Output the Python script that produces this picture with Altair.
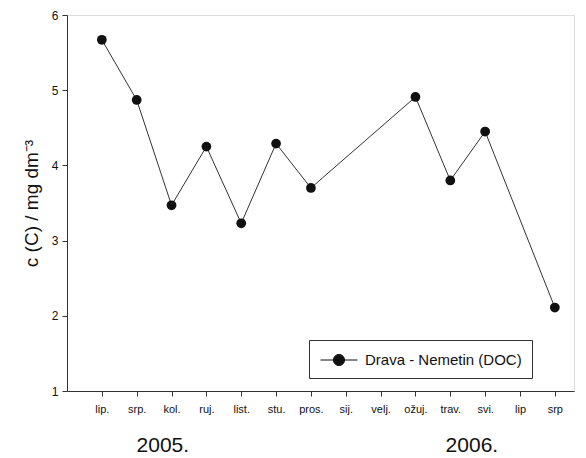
import altair as alt
import pandas as pd

months = ["lip.", "srp.", "kol.", "ruj.", "list.", "stu.", "pros.", "sij.",
          "velj.", "ožuj.", "trav.", "svi.", "lip", "srp"]
values = [5.67, 4.87, 3.47, 4.25, 3.23, 4.29, 3.70, None,
          None, 4.91, 3.80, 4.45, None, 2.11]
series_name = "Drava - Nemetin (DOC)"
years = ["2005.", "2006."]
year_pos = [1.75, 10.62]

df = pd.DataFrame({"idx": list(range(len(months))), "month": months, "val": values})
df = df.dropna()
df["series"] = series_name
ydf = pd.DataFrame({"year": years, "pos": year_pos})

font = "Liberation Sans"
label_expr = "[" + ",".join(f"'{m}'" for m in months) + "][datum.value]"

xscale = alt.Scale(domain=[-1, 13.55], nice=False, zero=False)
xaxis = alt.Axis(values=list(range(len(months))), labelExpr=label_expr,
                 title=None, grid=False, tickSize=5, labelPadding=7,
                 labelOverlap=False, labelFlush=False, labelBound=False,
                 labelFontSize=11, labelFont=font, labelColor="#111",
                 domainColor="#333", tickColor="#333")
x = alt.X("idx:Q", scale=xscale, axis=xaxis)
y = alt.Y("val:Q", scale=alt.Scale(domain=[1, 6], nice=False, zero=False),
          axis=alt.Axis(values=[1, 2, 3, 4, 5, 6], title="c (C) / mg dm⁻³",
                        grid=False, tickSize=5, labelPadding=4, labelFontSize=12,
                        labelFont=font, titleFont=font, titleFontSize=19,
                        titleFontWeight="normal", titlePadding=10,
                        labelColor="#111", titleColor="#111",
                        domainColor="#333", tickColor="#333"))

color = alt.Color("series:N", scale=alt.Scale(range=["#111"]),
                  legend=alt.Legend(title=None, orient="none", legendX=242, legendY=325,
                                    strokeColor="#333", padding=10, labelFont=font,
                                    labelFontSize=15, labelColor="#111",
                                    symbolType="M-2,0H2M0.6,0A0.6,0.6 0 1,1 -0.6,0A0.6,0.6 0 1,1 0.6,0Z",
                                    symbolSize=342, symbolStrokeWidth=1,
                                    symbolFillColor="#111", symbolStrokeColor="#111",
                                    labelOffset=16, symbolOffset=10))

line = alt.Chart(df).mark_line(color="#333", strokeWidth=1).encode(x=x, y=y)
pts = alt.Chart(df).mark_circle(size=95, opacity=1).encode(x=x, y=y, color=color)

years_txt = alt.Chart(ydf).mark_text(font=font, fontSize=21, color="#111", clip=False,
                                     baseline="middle").encode(
    x=alt.X("pos:Q", scale=xscale, axis=xaxis), y=alt.value(431), text="year:N")

chart = alt.layer(line, pts, years_txt).properties(
    width=507, height=376,
    padding={"left": 67, "top": 15, "right": 12, "bottom": 67},
    autosize=alt.AutoSizeParams(type="none"),
).configure_view(stroke="#333", strokeWidth=1).configure(background="white")

chart.save("out.html", embed_options={"renderer": "svg", "actions": False})
